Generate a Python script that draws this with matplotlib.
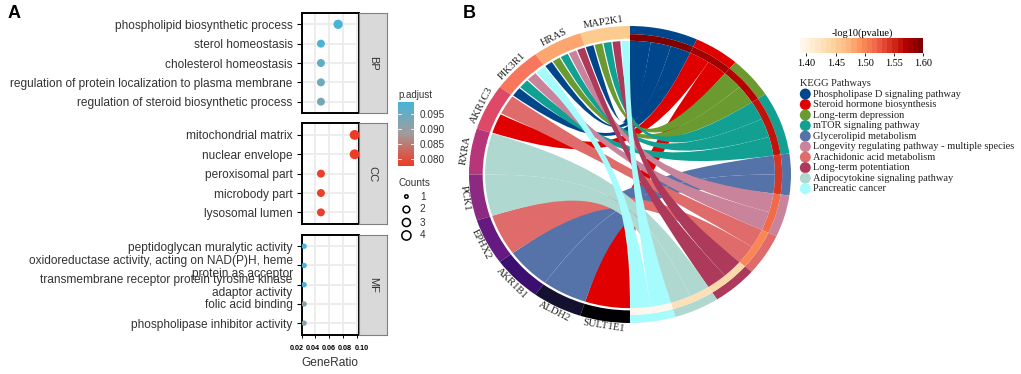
import numpy as np
import matplotlib
matplotlib.use("Agg")
import matplotlib.pyplot as plt
from matplotlib.cm import ScalarMappable
from matplotlib.colors import LinearSegmentedColormap, Normalize
from matplotlib.patches import PathPatch, Wedge
from matplotlib.path import Path

# panel A data
bp_terms = ["phospholipid biosynthetic process", "sterol homeostasis", "cholesterol homeostasis",
            "regulation of protein localization to plasma membrane",
            "regulation of steroid biosynthetic process"]
bp_ratio = [0.073, 0.048, 0.048, 0.048, 0.048]
bp_counts = [3, 2, 2, 2, 2]
bp_padj = [0.0985, 0.0985, 0.096, 0.0945, 0.0935]

cc_terms = ["mitochondrial matrix", "nuclear envelope", "peroxisomal part", "microbody part", "lysosomal lumen"]
cc_ratio = [0.097, 0.097, 0.048, 0.048, 0.048]
cc_counts = [4, 4, 2, 2, 2]
cc_padj = [0.078, 0.078, 0.0785, 0.0785, 0.0785]

mf_terms = ["peptidoglycan muralytic activity",
            "oxidoreductase activity, acting on NAD(P)H, heme\nprotein as acceptor",
            "transmembrane receptor protein tyrosine kinase\nadaptor activity",
            "folic acid binding", "phospholipase inhibitor activity"]
mf_ratio = [0.0235, 0.0235, 0.0235, 0.0235, 0.0235]
mf_counts = [1, 1, 1, 1, 1]
mf_padj = [0.0985, 0.0985, 0.0985, 0.0915, 0.0915]

ratio_ticks = [0.02, 0.04, 0.06, 0.08, 0.10]
padj_ticks = [0.080, 0.085, 0.090, 0.095]
count_levels = [1, 2, 3, 4]

# panel B data
genes = ["MAP2K1", "HRAS", "PIK3R1", "AKR1C3", "RXRA", "PCK1", "EPHX2", "AKR1B1", "ALDH2", "SULT1E1"]
gene_colors = ["#FDCB8E", "#FDA56F", "#F8765C", "#DE4968", "#B63679",
               "#8C2981", "#641A80", "#3B0F70", "#14102F", "#000004"]
pathways = ["Phospholipase D signaling pathway", "Steroid hormone biosynthesis", "Long-term depression",
            "mTOR signaling pathway", "Glycerolipid metabolism", "Longevity regulating pathway - multiple species",
            "Arachidonic acid metabolism", "Long-term potentiation", "Adipocytokine signaling pathway",
            "Pancreatic cancer"]
pathway_colors = ["#00468B", "#E00000", "#6A9A30", "#12A092", "#5573A8",
                  "#C9849B", "#E06B6B", "#AE3A5B", "#AFD8D0", "#A6FBFD"]
pathway_genes = [["MAP2K1", "HRAS", "PIK3R1"], ["AKR1C3", "SULT1E1"], ["MAP2K1", "HRAS"],
                 ["MAP2K1", "HRAS", "PIK3R1"], ["AKR1B1", "ALDH2"], ["HRAS", "PIK3R1"],
                 ["AKR1C3", "EPHX2"], ["MAP2K1", "HRAS"], ["RXRA", "PCK1"], ["MAP2K1", "PIK3R1"]]
pathway_logp = [1.60, 1.58, 1.57, 1.56, 1.54, 1.52, 1.50, 1.44, 1.43, 1.39]
logp_ticks = [1.40, 1.45, 1.50, 1.55, 1.60]

W, H = 1021, 374
plt.rcParams["font.family"] = "Liberation Sans"
fig = plt.figure(figsize=(W / 100, H / 100), dpi=100)


def px_axes(x0, y0, x1, y1):
    return fig.add_axes([x0 / W, 1 - y1 / H, (x1 - x0) / W, (y1 - y0) / H])


padj_cmap = LinearSegmentedColormap.from_list("padj", ["#EE3B24", "#A39B9B", "#45B5D8"])
padj_norm = Normalize(0.0779, 0.0991)
size_map = {1: 15, 2: 33, 3: 45, 4: 50}

panels = [("BP", bp_terms, bp_ratio, bp_counts, bp_padj, 12.7, 113.3),
          ("CC", cc_terms, cc_ratio, cc_counts, cc_padj, 123.3, 224),
          ("MF", mf_terms, mf_ratio, mf_counts, mf_padj, 234.7, 334.7)]
for name, terms, ratio, counts, padj, top, bottom in panels:
    ax = px_axes(301.7, top, 359, bottom)
    ypos = np.arange(len(terms))
    ax.scatter(ratio, ypos, s=[size_map[c] for c in counts], c=padj, cmap=padj_cmap, norm=padj_norm,
               linewidths=0, zorder=3)
    ax.set_xlim(0.02, 0.1034)
    ax.set_ylim(4.6, -0.6)
    ax.set_xticks(ratio_ticks)
    ax.set_yticks(ypos)
    ax.set_yticklabels(terms, fontsize=8.55, color="#333333", linespacing=1.12)
    ax.grid(color="#EDEDED", linewidth=1.4, zorder=0)
    ax.set_axisbelow(True)
    ax.tick_params(axis="y", length=3.5, width=0.8, pad=3)
    for spine in ax.spines.values():
        spine.set_linewidth(1.4)
    if name == "MF":
        ax.tick_params(axis="x", length=2, width=0.7, labelbottom=False)
        # the reference spreads these labels wider than the ticks
        for t in ratio_ticks:
            ax.text(0.06 + (t - 0.06) * 1.17, -0.136, "%.2f" % t, transform=ax.get_xaxis_transform(),
                    fontsize=5.2, fontweight="bold", ha="center", va="center")
        ax.set_xlabel("GeneRatio", fontsize=8.6, color="#333333", va="center")
        ax.xaxis.set_label_coords(0.5, -0.283)
    else:
        ax.tick_params(axis="x", length=0, labelbottom=False)
    strip = px_axes(359, top, 386.7, bottom)
    strip.set_facecolor("#D9D9D9")
    strip.set_xticks([])
    strip.set_yticks([])
    for spine in strip.spines.values():
        spine.set_color("#808080")
        spine.set_linewidth(0.8)
    strip.text(0.5, 0.5, name, transform=strip.transAxes, rotation=-90, ha="center", va="center",
               fontsize=8, color="#333333")

fig.text(8 / W, 1 - 13 / H, "A", fontsize=13, fontweight="bold", va="center")
fig.text(463 / W, 1 - 13 / H, "B", fontsize=13, fontweight="bold", va="center")

# p.adjust colour bar
cax = px_axes(397.7, 101.7, 414.3, 165.7)
cb = fig.colorbar(ScalarMappable(norm=padj_norm, cmap=padj_cmap), cax=cax)
cb.set_ticks(padj_ticks)
cb.set_ticklabels(["%.3f" % t for t in padj_ticks], fontsize=7.2, color="#333333")
cb.ax.tick_params(length=0, pad=4)
cb.outline.set_visible(False)
for t in padj_ticks:
    cax.plot([0, 0.2], [t, t], transform=cax.get_yaxis_transform(), color="white", lw=0.6)
    cax.plot([0.8, 1], [t, t], transform=cax.get_yaxis_transform(), color="white", lw=0.6)
fig.text(398 / W, 1 - 94.5 / H, "p.adjust", fontsize=7, color="#333333", va="center")

# Counts legend
lax = px_axes(398, 190, 440, 242)
lax.scatter([0.2] * 4, count_levels, s=[6, 24, 34, 44], facecolor="white", edgecolor="black", linewidths=1.1)
lax.set_xlim(0, 1)
lax.set_ylim(4.5, 0.5)
for c in count_levels:
    lax.text(0.52, c, str(c), fontsize=7.2, color="#333333", ha="left", va="center")
lax.axis("off")
fig.text(398 / W, 1 - 183 / H, "Counts", fontsize=7.2, color="#333333", va="center")

# chord diagram, unit circle stretched by the axes
chord = px_axes(630 - 161, 174.5 - 148.5, 630 + 161, 174.5 + 148.5)
chord.set_xlim(-1, 1)
chord.set_ylim(-1, 1)
chord.axis("off")

logp_cmap = plt.get_cmap("OrRd", 24)
logp_norm = Normalize(1.389, 1.60)
PULL = 0.2


def xy(angle, r):
    rad = np.deg2rad(angle)
    return r * np.sin(rad), r * np.cos(rad)


def ring(a0, a1, r0, r1, color):
    # angles are clockwise from the top
    chord.add_patch(Wedge((0, 0), r1, 90 - max(a0, a1), 90 - min(a0, a1), width=r1 - r0,
                          facecolor=color, edgecolor="none", clip_on=False))


def arc(a0, a1, r):
    return [xy(a, r) for a in np.linspace(a0, a1, 12)]


def ribbon(g0, g1, p0, p1, r, color, z):
    verts = arc(g0, g1, r)
    codes = [Path.MOVETO] + [Path.LINETO] * (len(verts) - 1)
    verts += [xy(g1, r * PULL), xy(p1, r * PULL), xy(p1, r)]
    codes += [Path.CURVE4] * 3
    more = arc(p1, p0, r)[1:]
    verts += more
    codes += [Path.LINETO] * len(more)
    verts += [xy(p0, r * PULL), xy(g0, r * PULL), xy(g0, r), xy(g0, r)]
    codes += [Path.CURVE4] * 3 + [Path.CLOSEPOLY]
    chord.add_patch(PathPatch(Path(verts, codes), facecolor=color, edgecolor="none", zorder=z))


link_total = sum(len(g) for g in pathway_genes)
path_step = 180 / link_total
gene_step = 180 / len(genes)

# gene side slots, pathway with highest index nearest the top
gene_links = {g: [i for i in range(len(pathways)) if g in pathway_genes[i]][::-1] for g in genes}

for i, g in enumerate(genes):
    ring(-gene_step * i, -gene_step * (i + 1), 0.915, 1.0, gene_colors[i])
    mid = -gene_step * (i + 0.5)
    lx, ly = xy(mid, 1.035)
    rot = -mid if mid > -90 else -(mid + 180)
    chord.text(lx, ly, g, family="Liberation Serif", fontsize=7.6, rotation=rot, rotation_mode="anchor",
               ha="center", va="center", color="#222222", clip_on=False)

start = 0
for i, name in enumerate(pathways):
    n = len(pathway_genes[i])
    end = start + n * path_step
    ring(start, end, 0.945, 1.0, pathway_colors[i])
    ring(start, end, 0.90, 0.945, logp_cmap(logp_norm(pathway_logp[i])))
    for k, g in enumerate(pathway_genes[i]):
        gi = genes.index(g)
        slots = gene_links[g]
        slot = slots.index(i)
        width = gene_step / len(slots)
        gap = 0.25 if len(slots) > 1 else 0
        g0 = -gene_step * gi - width * slot - gap
        g1 = g0 - width + 2 * gap
        ribbon(g0, g1, start + k * path_step, start + (k + 1) * path_step, 0.90, pathway_colors[i], i + 2)
    start = end

# -log10(pvalue) colour bar
pcax = px_axes(800, 38.3, 923.3, 53.3)
pcb = fig.colorbar(ScalarMappable(norm=logp_norm, cmap=logp_cmap), cax=pcax, orientation="horizontal")
pcb.set_ticks(logp_ticks)
pcb.set_ticklabels(["%.2f" % t for t in logp_ticks], fontsize=7.4, family="Liberation Serif")
pcb.ax.tick_params(length=2.5, width=0.6, pad=1.5)
pcb.outline.set_visible(False)
fig.text(862 / W, 1 - 32.7 / H, "-log10(pvalue)", family="Liberation Serif", fontsize=7.5, ha="center", va="center")

# KEGG legend
kax = px_axes(800, 88.75, 1021, 193.95)
kax.set_xlim(0, 221)
kax.set_ylim(9.5, -0.5)
kax.scatter([5.3] * len(pathways), range(len(pathways)), s=62, c=pathway_colors, linewidths=0, clip_on=False)
for i, name in enumerate(pathways):
    kax.text(13.3, i, name, family="Liberation Serif", fontsize=7.5, va="center", color="#222222")
kax.axis("off")
fig.text(800 / W, 1 - 83.3 / H, "KEGG Pathways", family="Liberation Serif", fontsize=7.5, va="center", color="#222222")

fig.savefig("out.png", dpi=100)
